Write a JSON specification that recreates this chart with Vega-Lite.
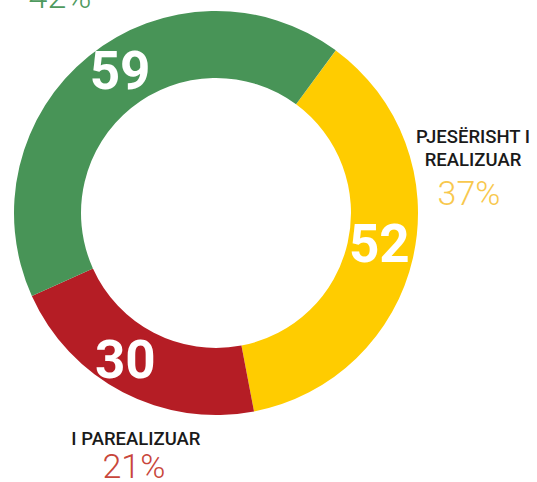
{
  "$schema": "https://vega.github.io/schema/vega-lite/v6.json",
  "width": 432,
  "height": 426,
  "autosize": "none",
  "padding": {"left": 0, "top": 0, "right": 105, "bottom": 56},
  "background": "white",
  "config": {"view": {"stroke": null}, "text": {"font": "Roboto"}},
  "data": {
    "values": [
      {"status": "PJESËRISHT I REALIZUAR", "key": "yellow", "rank": 1, "value": 52, "pct": "37%"},
      {"status": "I PAREALIZUAR", "key": "red", "rank": 2, "value": 30, "pct": "21%"},
      {"status": "REALIZUAR", "key": "green", "rank": 3, "value": 59, "pct": "42%"}
    ]
  },
  "encoding": {
    "theta": {"field": "value", "type": "quantitative", "stack": true, "scale": {"range": [0.635, 6.918]}},
    "order": {"field": "rank", "type": "ordinal"}
  },
  "layer": [
    {
      "mark": {"type": "arc", "innerRadius": 135, "outerRadius": 202},
      "encoding": {
        "color": {"field": "key", "type": "nominal", "legend": null,
          "scale": {"domain": ["yellow", "red", "green"], "range": ["#ffcc00", "#b51d25", "#489457"]}}
      }
    },
    {
      "mark": {"type": "text", "radius": 168.5, "fontSize": 53, "fontWeight": "bold", "color": "white", "align": "center", "baseline": "alphabetic", "dx": 10, "dy": 7},
      "encoding": {"text": {"condition": {"test": "datum.key === 'green'", "field": "value"}, "value": ""}}
    },
    {
      "mark": {"type": "text", "radius": 168.5, "fontSize": 53, "fontWeight": "bold", "color": "white", "align": "center", "baseline": "alphabetic", "dx": -1, "dy": 12},
      "encoding": {"text": {"condition": {"test": "datum.key === 'yellow'", "field": "value"}, "value": ""}}
    },
    {
      "mark": {"type": "text", "radius": 168.5, "fontSize": 53, "fontWeight": "bold", "color": "white", "align": "center", "baseline": "alphabetic", "dx": -13, "dy": 15},
      "encoding": {"text": {"condition": {"test": "datum.key === 'red'", "field": "value"}, "value": ""}}
    },
    {
      "mark": {"type": "text", "radius": 202, "fontSize": 18.5, "fontWeight": 500, "color": "#1a1a1a", "align": "center", "baseline": "alphabetic", "lineBreak": "|", "lineHeight": 23, "dx": 60, "dy": -115},
      "encoding": {"text": {"condition": {"test": "datum.key === 'yellow'", "value": "PJESËRISHT I|REALIZUAR"}, "value": ""}}
    },
    {
      "mark": {"type": "text", "radius": 202, "fontSize": 34, "fontWeight": 300, "color": "#f8c84e", "align": "center", "baseline": "alphabetic", "dx": 56, "dy": -53},
      "encoding": {"text": {"condition": {"test": "datum.key === 'yellow'", "field": "pct"}, "value": ""}}
    },
    {
      "mark": {"type": "text", "radius": 202, "fontSize": 18.5, "fontWeight": 500, "color": "#1a1a1a", "align": "center", "baseline": "alphabetic", "dx": 13, "dy": 53},
      "encoding": {"text": {"condition": {"test": "datum.key === 'red'", "field": "status"}, "value": ""}}
    },
    {
      "mark": {"type": "text", "radius": 202, "fontSize": 34, "fontWeight": 300, "color": "#c8463b", "align": "center", "baseline": "alphabetic", "dx": 11, "dy": 86},
      "encoding": {"text": {"condition": {"test": "datum.key === 'red'", "field": "pct"}, "value": ""}}
    },
    {
      "mark": {"type": "text", "radius": 202, "fontSize": 34, "fontWeight": 300, "color": "#4e9a5e", "align": "center", "baseline": "alphabetic", "dx": -29, "dy": -48},
      "encoding": {"text": {"condition": {"test": "datum.key === 'green'", "field": "pct"}, "value": ""}}
    }
  ]
}
